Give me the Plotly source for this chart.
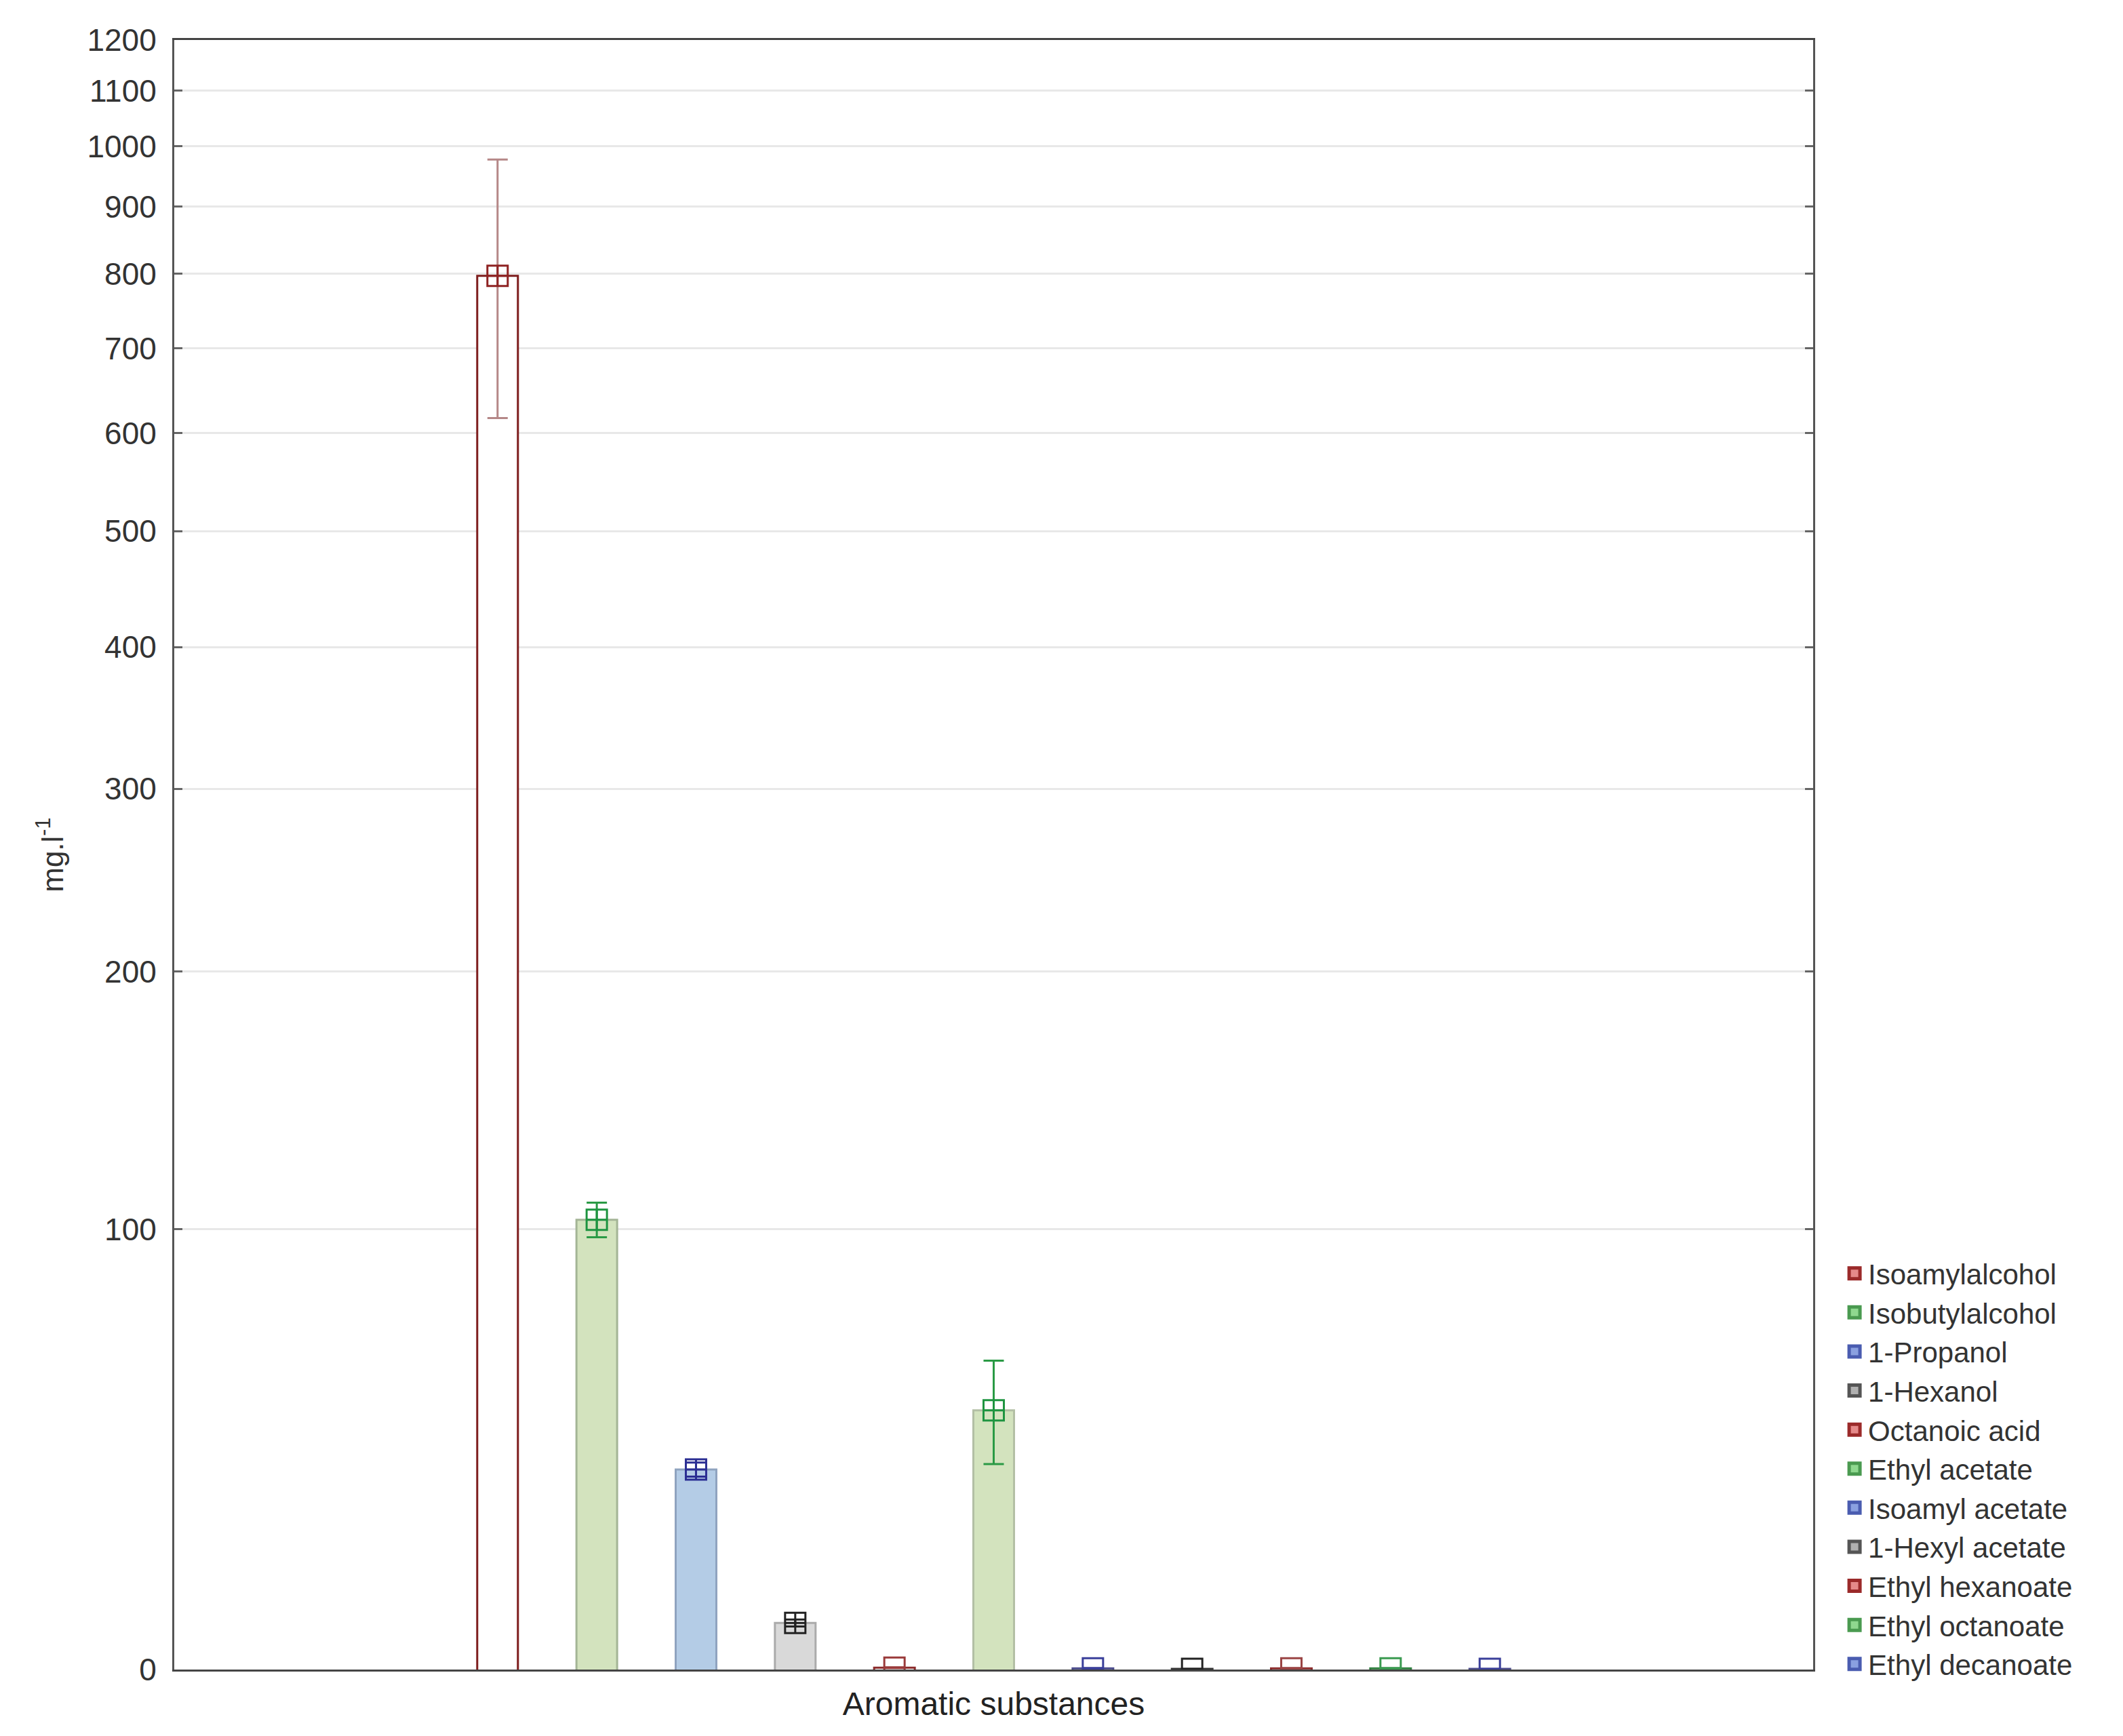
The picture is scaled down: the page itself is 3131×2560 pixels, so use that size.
import plotly.graph_objects as go

# ---------------- data ----------------
category = ["Aromatic substances"]
substances = [
    "Isoamylalcohol", "Isobutylalcohol", "1-Propanol", "1-Hexanol",
    "Octanoic acid", "Ethyl acetate", "Isoamyl acetate", "1-Hexyl acetate",
    "Ethyl hexanoate", "Ethyl octanoate", "Ethyl decanoate",
]
means = [797, 103, 37, 7.6, 0.3, 50.4, 0.2, 0.1, 0.2, 0.2, 0.1]
errors = [180, 5.5, 1.5, 0.6, 0.05, 12.2, 0.03, 0.02, 0.03, 0.03, 0.02]
y_tick_values = [0, 100, 200, 300, 400, 500, 600, 700, 800, 900, 1000, 1100, 1200]
AXIS_OFFSET = 100  # the value axis is scaled as log(value + 100)

# ---------------- styles ----------------
bar_fill = ["#ffffff", "#d3e3be", "#b4cce6", "#d9d9d9", "#ffffff", "#d3e3be",
            "#b4cce6", "#d9d9d9", "#ffffff", "#d3e3be", "#b4cce6"]
bar_line = ["#7d1c1c", "#a4b596", "#8fa3bf", "#ababab", "#8b2a2a", "#b3bfa5",
            "#4a4a8a", "#333333", "#8b2a2a", "#2f7f3f", "#4a4a8a"]
marker_color = ["#8e2222", "#1e9440", "#2b2e93", "#222222", "#9a3a3a", "#1e9440",
                "#3a3f9a", "#222222", "#9a4444", "#3a9a50", "#3a3f9a"]
err_color = ["#b58787", "#2a9a45", "#2b2e93", "#222222", "#9a3a3a", "#2a9a45",
             "#3a3f9a", "#222222", "#9a4444", "#3a9a50", "#3a3f9a"]
marker_symbol = ["square-cross-open"] * 4 + ["square-open"] + ["square-cross-open"] + ["square-open"] * 5
legend_fill = ["#e58a8a", "#8fd88f", "#8aa0e0", "#b0b0b0", "#e58a8a", "#8fd88f",
               "#8aa0e0", "#b0b0b0", "#e58a8a", "#8fd88f", "#8aa0e0"]
legend_line = ["#9b2a2a", "#4a9a50", "#4a5cb0", "#555555", "#9b2a2a", "#4a9a50",
               "#4a5cb0", "#555555", "#9b2a2a", "#4a9a50", "#4a5cb0"]

FONT = "Liberation Sans, Arial, sans-serif"

fig = go.Figure()

shifted = [m + AXIS_OFFSET for m in means]

# bars
for i, name in enumerate(substances):
    fig.add_trace(go.Bar(
        x=category, y=[shifted[i]], name=name, showlegend=False,
        marker=dict(color=bar_fill[i], line=dict(color=bar_line[i], width=3)),
        hoverinfo="skip",
    ))

# mean markers with error bars
for i, name in enumerate(substances):
    fig.add_trace(go.Scatter(
        x=category, y=[shifted[i]], name=name, showlegend=False, mode="markers",
        marker=dict(symbol=marker_symbol[i], size=30, color=marker_color[i],
                    line=dict(color=marker_color[i], width=3)),
        error_y=dict(type="data", array=[errors[i]], visible=True,
                     color=err_color[i], thickness=3, width=15),
    ))

# legend entries (on hidden overlay axes so they do not join the grouping)
for i, name in enumerate(substances):
    fig.add_trace(go.Scatter(
        x=[None], y=[None], name=name, mode="markers", xaxis="x2", yaxis="y2",
        marker=dict(symbol="square", size=16, color=legend_fill[i],
                    line=dict(color=legend_line[i], width=6)),
    ))

fig.update_layout(
    width=3115, height=2544,
    paper_bgcolor="white", plot_bgcolor="white",
    margin=dict(l=249, r=449, t=51, b=90),
    barmode="group", bargap=0.334, bargroupgap=0.59,
    scattermode="group", scattergap=0.334,
    font=dict(family=FONT, size=46, color="#333333"),
    xaxis=dict(
        type="category", showgrid=False, ticks="", showline=True,
        linecolor="#444444", linewidth=3, mirror=True,
        tickfont=dict(size=48, color="#222222"), ticklabelstandoff=6,
    ),
    yaxis=dict(
        type="log",
        range=[2, 3.11394335],
        tickvals=[v + AXIS_OFFSET for v in y_tick_values],
        ticktext=[str(v) for v in y_tick_values],
        ticks="inside", ticklen=12, tickwidth=3, tickcolor="#666666",
        showgrid=True, gridcolor="#e8e8e8", gridwidth=3,
        showline=True, linecolor="#555555", linewidth=3, mirror="ticks",
        zeroline=False,
        tickfont=dict(size=46, color="#333333"), ticklabelstandoff=14,
        title=dict(text="mg.l<sup>-1</sup>", font=dict(size=44, color="#333333"), standoff=22),
    ),
    xaxis2=dict(overlaying="x", visible=False),
    yaxis2=dict(overlaying="y", visible=False),
    legend=dict(
        x=1.0170, xanchor="left", y=0.2572, yanchor="top",
        font=dict(size=42, color="#333333"), bgcolor="rgba(0,0,0,0)",
        tracegroupgap=0, itemsizing="trace",
    ),
)

fig.write_html("out.html")
